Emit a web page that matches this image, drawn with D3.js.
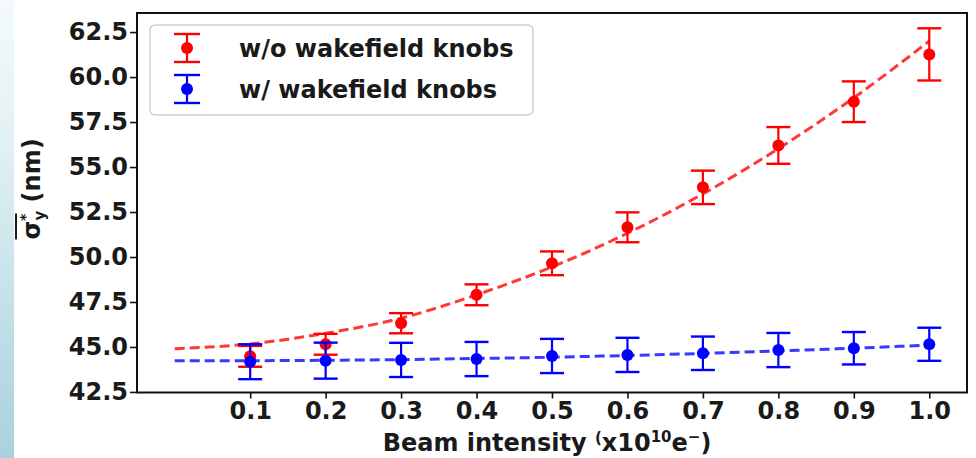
<!DOCTYPE html>
<html>
<head>
<meta charset="utf-8">
<script src="https://cdn.jsdelivr.net/npm/d3@7"></script>
<style>
  html, body { margin: 0; padding: 0; background: #fff; }
  svg { display: block; }
  text { font-family: "DejaVu Sans", sans-serif; fill: #1a1a1a; font-weight: bold; }
</style>
</head>
<body>
<svg id="chart" width="976" height="458"></svg>
<script>
// Beam intensity (x10^10 e-) at each measurement
const intensity = [0.1, 0.2, 0.3, 0.4, 0.5, 0.6, 0.7, 0.8, 0.9, 1.0];

// Mean vertical beam size (nm) and its error, without wakefield knobs
const sigmaNoKnobs = [44.48, 45.15, 46.32, 47.9, 49.65, 51.65, 53.87, 56.2, 58.63, 61.26];
const errNoKnobs   = [0.58, 0.58, 0.56, 0.58, 0.66, 0.83, 0.93, 1.02, 1.13, 1.45];

// Mean vertical beam size (nm) and its error, with wakefield knobs
const sigmaKnobs = [44.18, 44.24, 44.28, 44.33, 44.5, 44.56, 44.65, 44.83, 44.93, 45.15];
const errKnobs   = [0.97, 1.0, 0.95, 0.95, 0.95, 0.95, 0.93, 0.95, 0.9, 0.92];

// Quadratic fit curves sampled along the intensity axis
const fitIntensity = [0, 0.1, 0.2, 0.3, 0.4, 0.5, 0.6, 0.7, 0.8, 0.9, 1.0];
const fitNoKnobs   = [44.9, 45.17, 45.76, 46.6, 47.9, 49.45, 51.32, 53.51, 56.02, 58.85, 62.0];
const fitKnobs     = [44.24, 44.24, 44.26, 44.30, 44.36, 44.43, 44.53, 44.64, 44.78, 44.93, 45.1];

const xTicks = [0.1, 0.2, 0.3, 0.4, 0.5, 0.6, 0.7, 0.8, 0.9, 1.0];
const yTicks = [42.5, 45.0, 47.5, 50.0, 52.5, 55.0, 57.5, 60.0, 62.5];

const seriesNames = ["w/o wakefield knobs", "w/ wakefield knobs"];
const seriesColors = ["#ff0000", "#0000ff"];

const svg = d3.select("#chart");
const W = 976, H = 458;
const plot = { left: 137, right: 967, top: 13, bottom: 392.5 };

// slide background strip on the left edge
const defs = svg.append("defs");
const grad = defs.append("linearGradient").attr("id", "strip")
  .attr("x1", 0).attr("y1", 0).attr("x2", 0).attr("y2", 1);
grad.append("stop").attr("offset", "0%").attr("stop-color", "#f3fafc");
grad.append("stop").attr("offset", "30%").attr("stop-color", "#e2f1f5");
grad.append("stop").attr("offset", "100%").attr("stop-color", "#a9d1dd");
svg.append("rect").attr("x", 0).attr("y", 0).attr("width", 14).attr("height", H)
  .attr("fill", "url(#strip)");

const x = d3.scaleLinear().domain([-0.05, 1.05]).range([plot.left, plot.right]);
const y = d3.scaleLinear().domain([42.47, 63.56]).range([plot.bottom, plot.top]);

const fontSize = 24;

// axes
const xAxis = svg.append("g")
  .attr("transform", `translate(0,${plot.bottom})`)
  .call(d3.axisBottom(x).tickValues(xTicks).tickFormat(d3.format(".1f")).tickSize(6).tickPadding(3));
const yAxis = svg.append("g")
  .attr("transform", `translate(${plot.left},0)`)
  .call(d3.axisLeft(y).tickValues(yTicks).tickFormat(d3.format(".1f")).tickSize(7).tickPadding(2));
[xAxis, yAxis].forEach(g => {
  g.select(".domain").remove();
  g.selectAll(".tick line").attr("stroke", "#111").attr("stroke-width", 1.6);
  g.selectAll(".tick text").attr("font-size", fontSize).attr("fill", "#1a1a1a")
    .attr("font-family", "DejaVu Sans").attr("font-weight", "bold");
});

// frame
svg.append("rect")
  .attr("x", plot.left).attr("y", plot.top)
  .attr("width", plot.right - plot.left).attr("height", plot.bottom - plot.top)
  .attr("fill", "none").attr("stroke", "#111").attr("stroke-width", 2);

const plotArea = svg.append("g");

// fit curves
const line = d3.line()
  .x(d => x(d[0])).y(d => y(d[1]))
  .curve(d3.curveMonotoneX);

[[fitIntensity, fitNoKnobs, 0], [fitIntensity, fitKnobs, 1]].forEach(([xs, ys, i]) => {
  plotArea.append("path")
    .datum(d3.zip(xs, ys))
    .attr("d", line)
    .attr("fill", "none")
    .attr("stroke", seriesColors[i])
    .attr("stroke-width", 3)
    .attr("stroke-opacity", 0.78)
    .attr("stroke-dasharray", "10,5");
});

// error bars with markers
function drawErrorBars(g, xs, ys, es, color) {
  const pts = d3.zip(xs, ys, es);
  const bars = g.append("g").selectAll("g").data(pts).join("g");
  const cap = 12;
  bars.append("line")
    .attr("x1", d => x(d[0])).attr("x2", d => x(d[0]))
    .attr("y1", d => y(d[1] - d[2])).attr("y2", d => y(d[1] + d[2]))
    .attr("stroke", color).attr("stroke-width", 2.2);
  bars.append("line")
    .attr("x1", d => x(d[0]) - cap).attr("x2", d => x(d[0]) + cap)
    .attr("y1", d => y(d[1] + d[2])).attr("y2", d => y(d[1] + d[2]))
    .attr("stroke", color).attr("stroke-width", 2.4);
  bars.append("line")
    .attr("x1", d => x(d[0]) - cap).attr("x2", d => x(d[0]) + cap)
    .attr("y1", d => y(d[1] - d[2])).attr("y2", d => y(d[1] - d[2]))
    .attr("stroke", color).attr("stroke-width", 2.4);
  bars.append("circle")
    .attr("cx", d => x(d[0])).attr("cy", d => y(d[1]))
    .attr("r", 6).attr("fill", color);
}
drawErrorBars(plotArea, intensity, sigmaNoKnobs, errNoKnobs, seriesColors[0]);
drawErrorBars(plotArea, intensity, sigmaKnobs, errKnobs, seriesColors[1]);

// legend
const legend = svg.append("g");
legend.append("rect")
  .attr("x", 150).attr("y", 25).attr("width", 383).attr("height", 90)
  .attr("rx", 5).attr("fill", "#fff").attr("fill-opacity", 0.9)
  .attr("stroke", "#cfcfcf").attr("stroke-width", 1.5);
seriesNames.forEach((name, i) => {
  const cy = 48 + i * 41;
  const cx = 187;
  const c = seriesColors[i];
  legend.append("line").attr("x1", cx).attr("x2", cx).attr("y1", cy - 14).attr("y2", cy + 14)
    .attr("stroke", c).attr("stroke-width", 2.2);
  [-14, 14].forEach(o => legend.append("line")
    .attr("x1", cx - 13).attr("x2", cx + 13).attr("y1", cy + o).attr("y2", cy + o)
    .attr("stroke", c).attr("stroke-width", 2.4));
  legend.append("circle").attr("cx", cx).attr("cy", cy).attr("r", 6).attr("fill", c);
  legend.append("text").attr("x", 239).attr("y", cy + 9)
    .attr("font-size", fontSize).text(name);
});

// x axis label
const xl = svg.append("text")
  .attr("x", 547).attr("y", 451)
  .attr("text-anchor", "middle")
  .attr("font-size", fontSize);
xl.append("tspan").text("Beam intensity ");
xl.append("tspan").attr("font-size", 15).attr("dy", -8).text("(");
xl.append("tspan").attr("font-size", fontSize).attr("dy", 8).text("x10");
xl.append("tspan").attr("font-size", 15).attr("dy", -9).text("10");
xl.append("tspan").attr("font-size", fontSize).attr("dy", 9).text("e");
xl.append("tspan").attr("font-size", 15).attr("dy", -9).text("−");
xl.append("tspan").attr("font-size", fontSize).attr("dy", 9).text(")");

// y axis label: overlined sigma* with subscript y
const yl = svg.append("g").attr("transform", "translate(40,189) rotate(-90)");
const ylt = yl.append("text").attr("text-anchor", "middle").attr("font-size", fontSize);
const sig = ylt.append("tspan").text("σ");
ylt.append("tspan").attr("font-size", 14).attr("dy", -10).text("*");
ylt.append("tspan").attr("font-size", 15).attr("dx", -7).attr("dy", 15).text("y");
ylt.append("tspan").attr("font-size", fontSize).attr("dy", -5).text(" (nm)");
const bb = ylt.node().getBBox();
yl.append("line")
  .attr("x1", bb.x).attr("x2", bb.x + 26)
  .attr("y1", bb.y - 1).attr("y2", bb.y - 1)
  .attr("stroke", "#1a1a1a").attr("stroke-width", 2);
</script>
</body>
</html>
